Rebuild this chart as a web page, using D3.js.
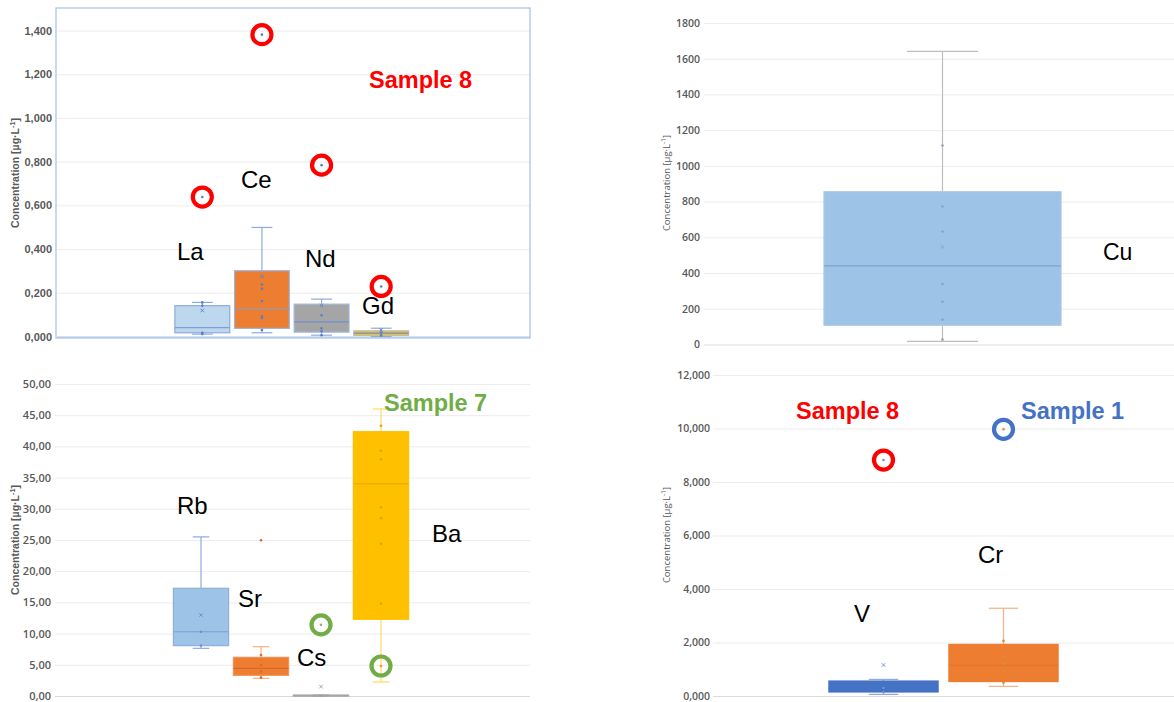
<!DOCTYPE html>
<html>
<head>
<meta charset="utf-8">
<script src="https://cdn.jsdelivr.net/npm/d3@7"></script>
<style>
  html, body { margin: 0; padding: 0; background: #ffffff; }
  svg { display: block; }
</style>
</head>
<body>
<svg id="chart" width="1174" height="702"></svg>
<script>
// ---------- Rare earth elements (La, Ce, Nd, Gd) ----------
const reeElements = ["La", "Ce", "Nd", "Gd"];
const reeWhiskerLow = [0.011, 0.017, 0.006, 0.000];
const reeQ1 = [0.017, 0.037, 0.020, 0.005];
const reeMedian = [0.041, 0.127, 0.067, 0.015];
const reeQ3 = [0.141, 0.301, 0.148, 0.026];
const reeWhiskerHigh = [0.156, 0.499, 0.171, 0.038];
const reeMean = [0.119, 0.275, 0.142, 0.030];
const reePoints = [
  [0.156, 0.141, 0.017, 0.011],
  [0.238, 0.218, 0.162, 0.092, 0.085, 0.030],
  [0.097, 0.038, 0.024, 0.006],
  [0.018, 0.005]
];
const reeOutliers = [0.638, 1.381, 0.784, 0.229];
const reeTicks = [0, 0.2, 0.4, 0.6, 0.8, 1.0, 1.2, 1.4];

// ---------- Copper ----------
const cuElements = ["Cu"];
const cuWhiskerLow = [18];
const cuQ1 = [108];
const cuMedian = [440];
const cuQ3 = [855];
const cuWhiskerHigh = [1641];
const cuMean = [546];
const cuPoints = [[1114, 773, 633, 339, 239, 140, 28]];
const cuOutliers = [null];
const cuTicks = [0, 200, 400, 600, 800, 1000, 1200, 1400, 1600, 1800];

// ---------- Alkali / alkaline earth (Rb, Sr, Cs, Ba) ----------
const alkElements = ["Rb", "Sr", "Cs", "Ba"];
const alkWhiskerLow = [7.64, 2.83, 0.00, 2.24];
const alkQ1 = [8.07, 3.31, 0.00, 12.29];
const alkMedian = [10.3, 4.43, 0.05, 34.0];
const alkQ3 = [17.26, 6.20, 0.15, 42.36];
const alkWhiskerHigh = [25.5, 7.90, 0.15, 46.0];
const alkMean = [12.98, null, 1.5, null];
const alkPoints = [
  [8.1, 10.3],
  [6.57, 4.97, 3.9, 2.94],
  [0.05],
  [43.3, 39.3, 37.9, 30.2, 28.5, 24.4, 14.8, 4.81]
];
const alkOutliers = [null, 24.95, 11.4, null];
const alkTicks = [0, 5, 10, 15, 20, 25, 30, 35, 40, 45, 50];

// ---------- Vanadium / chromium ----------
const vcrElements = ["V", "Cr"];
const vcrWhiskerLow = [0.06, 0.36];
const vcrQ1 = [0.15, 0.54];
const vcrMedian = [0.30, 1.15];
const vcrQ3 = [0.56, 1.93];
const vcrWhiskerHigh = [0.62, 3.28];
const vcrMean = [1.16, null];
const vcrPoints = [[0.30, 0.15], [2.06, 1.47, 1.20, 0.91, 0.50]];
const vcrOutliers = [8.82, 9.97];
const vcrTicks = [0, 2, 4, 6, 8, 10, 12];

const svg = d3.select("#chart");

const commaDecimal = spec => v => d3.format(spec)(v).replace(".", ",");

function boxStats(cats, lo, q1, med, q3, hi, mean, pts, out) {
  return cats.map((c, i) => ({
    cat: c, lo: lo[i], q1: q1[i], med: med[i], q3: q3[i], hi: hi[i],
    mean: mean[i], pts: pts[i], out: out[i]
  }));
}

function drawPanel(cfg) {
  const g = svg.append("g");
  const y = d3.scaleLinear().domain(cfg.domain).range([cfg.bottom, cfg.top]);
  const x = d3.scaleBand().domain(cfg.data.map(d => d.cat))
    .range(cfg.bandRange).paddingInner(cfg.padInner).paddingOuter(cfg.padOuter);
  const bw = x.bandwidth();

  // horizontal gridlines
  const grid = g.append("g").attr("transform", `translate(${cfg.left},0)`)
    .call(d3.axisLeft(y).tickValues(cfg.ticks).tickSize(-(cfg.right - cfg.left)).tickFormat(""));
  grid.select(".domain").remove();
  grid.selectAll(".tick line").attr("stroke", cfg.gridColor).attr("stroke-width", 1);
  grid.selectAll(".tick").filter(d => d === 0).select("line").attr("stroke", cfg.baseColor);

  // tick labels
  const axis = g.append("g").attr("transform", `translate(${cfg.labelX},0)`)
    .call(d3.axisLeft(y).tickValues(cfg.ticks).tickSize(0).tickPadding(0).tickFormat(cfg.format));
  axis.select(".domain").remove();
  axis.selectAll("text")
    .attr("font-family", cfg.tickFont).attr("font-size", cfg.tickSize)
    .attr("font-weight", cfg.tickWeight).attr("fill", "#595959");

  // axis title
  const title = g.append("text")
    .attr("transform", `translate(${cfg.titleX},${cfg.titleY}) rotate(-90)`)
    .attr("text-anchor", "middle")
    .attr("font-family", cfg.titleFont).attr("font-size", cfg.titleSize)
    .attr("font-weight", cfg.titleWeight).attr("fill", "#595959");
  title.append("tspan").text("Concentration [µg·L");
  title.append("tspan").attr("dy", -4).attr("font-size", cfg.titleSize * 0.7).text("-1");
  title.append("tspan").attr("dy", 4).text("]");

  if (cfg.frame) {
    g.append("rect").attr("x", cfg.frame[0]).attr("y", cfg.frame[1])
      .attr("width", cfg.frame[2] - cfg.frame[0]).attr("height", cfg.frame[3] - cfg.frame[1])
      .attr("fill", "none").attr("stroke", "#a9c0e6").attr("stroke-width", 1.2);
  }

  const boxes = g.selectAll("g.box").data(cfg.data).join("g").attr("class", "box");
  boxes.each(function (d, i) {
    const b = d3.select(this);
    const st = cfg.styles[i];
    const cx = x(d.cat) + bw / 2;
    const cap = bw * cfg.capFrac / 2;
    // whiskers
    b.append("line").attr("x1", cx).attr("x2", cx).attr("y1", y(d.q3)).attr("y2", y(d.hi))
      .attr("stroke", st.whisker).attr("stroke-width", 1.2);
    b.append("line").attr("x1", cx).attr("x2", cx).attr("y1", y(d.q1)).attr("y2", y(d.lo))
      .attr("stroke", st.whisker).attr("stroke-width", 1.2);
    b.append("line").attr("x1", cx - cap).attr("x2", cx + cap).attr("y1", y(d.hi)).attr("y2", y(d.hi))
      .attr("stroke", st.whisker).attr("stroke-width", 1.2);
    b.append("line").attr("x1", cx - cap).attr("x2", cx + cap).attr("y1", y(d.lo)).attr("y2", y(d.lo))
      .attr("stroke", st.whisker).attr("stroke-width", 1.2);
    // box
    b.append("rect").attr("x", x(d.cat)).attr("width", bw)
      .attr("y", y(d.q3)).attr("height", Math.max(1, y(d.q1) - y(d.q3)))
      .attr("fill", st.fill).attr("stroke", st.stroke).attr("stroke-width", 1.2);
    // median
    b.append("line").attr("x1", x(d.cat)).attr("x2", x(d.cat) + bw)
      .attr("y1", y(d.med)).attr("y2", y(d.med))
      .attr("stroke", st.median).attr("stroke-width", 1.2);
    // inner points
    b.selectAll("circle.pt").data(d.pts).join("circle").attr("class", "pt")
      .attr("cx", cx).attr("cy", v => y(v)).attr("r", 1.3).attr("fill", st.point);
    // mean marker
    if (d.mean != null) {
      b.append("path").attr("d", d3.symbol(d3.symbolX, 10)())
        .attr("transform", `translate(${cx},${y(d.mean)})`)
        .attr("stroke", st.point).attr("stroke-width", 0.9).attr("fill", "none");
    }
    // outlier
    if (d.out != null) {
      b.append("circle").attr("cx", cx).attr("cy", y(d.out)).attr("r", 1.3).attr("fill", st.point);
    }
  });

  // highlight rings around noted samples
  (cfg.rings || []).forEach(r => {
    const cx = x(r.cat) + bw / 2;
    g.append("circle").attr("cx", cx).attr("cy", y(r.value)).attr("r", 9.5)
      .attr("fill", "none").attr("stroke", r.color).attr("stroke-width", 4.2);
  });

  // element labels
  (cfg.labels || []).forEach(l => {
    g.append("text").attr("x", l.x).attr("y", l.y)
      .attr("font-family", "'Liberation Sans', Arial, sans-serif")
      .attr("font-size", l.size || 24).attr("font-weight", l.bold ? "bold" : "normal")
      .attr("fill", l.color || "#000").text(l.text);
  });
}

// ---------- Panel: La / Ce / Nd / Gd ----------
const reeData = boxStats(reeElements, reeWhiskerLow, reeQ1, reeMedian, reeQ3, reeWhiskerHigh, reeMean, reePoints, reeOutliers);
drawPanel({
  data: reeData, domain: [0, 1.4], ticks: reeTicks, format: commaDecimal(".3f"),
  top: 30.5, bottom: 336.5, left: 57, right: 530,
  bandRange: [172.5, 411], padInner: 0.08, padOuter: 0.04, capFrac: 0.38,
  gridColor: "#ececec", baseColor: "#a9c0e6",
  labelX: 52, tickFont: "'Liberation Sans', Arial, sans-serif", tickSize: 11, tickWeight: "bold",
  titleX: 19, titleY: 173, titleFont: "'Liberation Sans', Arial, sans-serif", titleSize: 10.5, titleWeight: "bold",
  frame: [56, 8, 530, 338],
  styles: [
    { fill: "#bdd7ee", stroke: "#8faadc", whisker: "#8faadc", median: "#7f9fd4", point: "#5b7fc4" },
    { fill: "#ed7d31", stroke: "#9db6e0", whisker: "#8faadc", median: "#7f9fd4", point: "#5b7fc4" },
    { fill: "#a5a5a5", stroke: "#9db6e0", whisker: "#8faadc", median: "#6f8fcf", point: "#5b7fc4" },
    { fill: "#ffc000", stroke: "#b0bfd8", whisker: "#8faadc", median: "#6f8fcf", point: "#5b7fc4" }
  ],
  rings: reeElements.map((c, i) => ({ cat: c, value: reeOutliers[i], color: "#ff0000" })),
  labels: [
    { text: "La", x: 177, y: 260 },
    { text: "Ce", x: 241, y: 188 },
    { text: "Nd", x: 305, y: 267 },
    { text: "Gd", x: 362, y: 314 },
    { text: "Sample 8", x: 369, y: 88, size: 23.5, bold: true, color: "#ff0000" }
  ]
});

// ---------- Panel: Cu ----------
const cuData = boxStats(cuElements, cuWhiskerLow, cuQ1, cuMedian, cuQ3, cuWhiskerHigh, cuMean, cuPoints, cuOutliers);
drawPanel({
  data: cuData, domain: [0, 1800], ticks: cuTicks, format: d3.format("d"),
  top: 23, bottom: 344.5, left: 704, right: 1174,
  bandRange: [824, 1061], padInner: 0, padOuter: 0, capFrac: 0.3,
  gridColor: "#ececec", baseColor: "#dcdcdc",
  labelX: 700, tickFont: "'Open Sans', sans-serif", tickSize: 10.5, tickWeight: 600,
  titleX: 670, titleY: 183, titleFont: "'Open Sans', sans-serif", titleSize: 9.5, titleWeight: "normal",
  styles: [
    { fill: "#9dc3e6", stroke: "#a9c6e3", whisker: "#bdbdbd", median: "#7fa3c9", point: "#8ea3bb" }
  ],
  labels: [
    { text: "Cu", x: 1103, y: 260, size: 23 }
  ]
});

// ---------- Panel: Rb / Sr / Cs / Ba ----------
const alkData = boxStats(alkElements, alkWhiskerLow, alkQ1, alkMedian, alkQ3, alkWhiskerHigh, alkMean, alkPoints, alkOutliers);
drawPanel({
  data: alkData, domain: [0, 50], ticks: alkTicks, format: commaDecimal(".2f"),
  top: 384, bottom: 696, left: 55, right: 530,
  bandRange: [171, 411], padInner: 0.08, padOuter: 0.04, capFrac: 0.3,
  gridColor: "#ececec", baseColor: "#d9d9d9",
  labelX: 51, tickFont: "'Open Sans', sans-serif", tickSize: 11, tickWeight: 600,
  titleX: 19, titleY: 540, titleFont: "'Liberation Sans', Arial, sans-serif", titleSize: 10.5, titleWeight: "bold",
  styles: [
    { fill: "#9dc3e6", stroke: "#8fb0d8", whisker: "#8faadc", median: "#7f9fd4", point: "#6f8fcf" },
    { fill: "#ed7d31", stroke: "#f0955a", whisker: "#f4b183", median: "#d8692a", point: "#e06a20" },
    { fill: "#a5a5a5", stroke: "#a5a5a5", whisker: "#a5a5a5", median: "#a5a5a5", point: "#a0a0a0" },
    { fill: "#ffc000", stroke: "#ffc000", whisker: "#ffd966", median: "#e6ad00", point: "#e0a400" }
  ],
  rings: [
    { cat: "Cs", value: alkOutliers[2], color: "#70ad47" },
    { cat: "Ba", value: alkPoints[3][7], color: "#70ad47" }
  ],
  labels: [
    { text: "Rb", x: 177, y: 514 },
    { text: "Sr", x: 238, y: 607 },
    { text: "Cs", x: 297, y: 666 },
    { text: "Ba", x: 432, y: 542 },
    { text: "Sample 7", x: 384, y: 411, size: 23.5, bold: true, color: "#70ad47" }
  ]
});

// ---------- Panel: V / Cr ----------
const vcrData = boxStats(vcrElements, vcrWhiskerLow, vcrQ1, vcrMedian, vcrQ3, vcrWhiskerHigh, vcrMean, vcrPoints, vcrOutliers);
drawPanel({
  data: vcrData, domain: [0, 12], ticks: vcrTicks, format: commaDecimal(".3f"),
  top: 375, bottom: 696, left: 713, right: 1174,
  bandRange: [823.5, 1063.5], padInner: 0.09, padOuter: 0.045, capFrac: 0.27,
  gridColor: "#ececec", baseColor: "#dcdcdc",
  labelX: 710, tickFont: "'Open Sans', sans-serif", tickSize: 10.5, tickWeight: 600,
  titleX: 670, titleY: 535, titleFont: "'Open Sans', sans-serif", titleSize: 9.5, titleWeight: "normal",
  styles: [
    { fill: "#4472c4", stroke: "#4472c4", whisker: "#8faadc", median: "#4472c4", point: "#6f8fcf" },
    { fill: "#ed7d31", stroke: "#ed7d31", whisker: "#f4b183", median: "#e2732a", point: "#e0893f" }
  ],
  rings: [
    { cat: "V", value: vcrOutliers[0], color: "#ff0000" },
    { cat: "Cr", value: vcrOutliers[1], color: "#4472c4" }
  ],
  labels: [
    { text: "V", x: 854, y: 622 },
    { text: "Cr", x: 978, y: 563 },
    { text: "Sample 8", x: 796, y: 419, size: 23.5, bold: true, color: "#ff0000" },
    { text: "Sample 1", x: 1021, y: 419, size: 23.5, bold: true, color: "#4472c4" }
  ]
});
</script>
</body>
</html>
